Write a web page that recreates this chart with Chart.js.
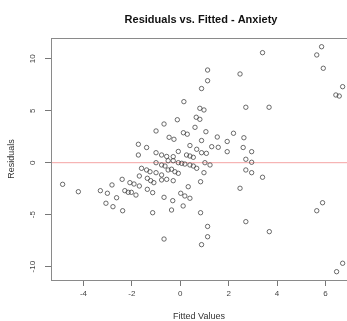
<!DOCTYPE html>
<html lang="en">
<head>
    <meta charset="UTF-8">
    <title>Residuals vs. Fitted - Anxiety</title>
    <script src="https://cdn.jsdelivr.net/npm/chart.js@4.4.1/dist/chart.umd.min.js"></script>
    <style>
        html, body { margin: 0; padding: 0; background: #fff; overflow: hidden; }
    </style>
</head>
<body>
    <div style="width: 347px; height: 321px;">
        <canvas id="residChart"></canvas>
    </div>

    <script>
        // Data
        const fittedValues = [
            -4.86, -4.21, -3.30, -3.01, -2.82, -2.63, -3.07, -2.78, -2.38, -2.40,
            -2.08, -1.91, -1.69, -1.69, -2.29, -2.15, -2.02, -1.83, -1.73, -1.73,
            -1.39, -1.36, -1.14, -1.14, -1.39, -1.60, -1.25, -1.00, -0.77, -1.36,
            -1.22, -1.09, -0.77, -0.56, -0.29, -0.36, -0.22, -0.08, -0.67, -0.31,
            0.02, 0.19, 0.40, 0.33, 0.12, -0.36, 0.84, 0.84, 0.98, -0.67,
            1.13, 1.13, 0.88,
            -1.00, -0.77, -0.63, -0.50, -0.29, -0.08, 0.06, 0.19, 0.40, 0.54,
            0.68, 1.02, 1.23,
            -1.00, -0.77, -0.56, -0.29, -0.08, 0.26, 0.40, 0.54, 0.68, 0.88,
            1.08, 1.30, 1.57, 1.94, 0.40, 0.88, 1.94, 1.53, -0.46, -0.26,
            -1.00, -0.67, -0.12, 0.15, 0.13, 0.29, 0.61, 1.06, 0.66, 0.81,
            0.81, 0.98, 0.88, 1.13, 1.13,
            2.20, 2.63, 2.60, 2.95, 2.71, 2.95, 2.71, 2.95, 3.40, 2.47,
            2.71, 3.68, 2.71, 3.67, 2.47, 3.40, 5.84, 5.64, 5.91, 6.71,
            6.43, 6.57, 5.88, 5.64, 6.71, 6.46,
            -0.50
        ];
        const residuals = [
            -2.08, -2.79, -2.69, -2.94, -2.14, -3.37, -3.90, -4.23, -4.62, -1.60,
            -1.92, -2.05, -2.24, -1.28, -2.69, -2.85, -2.85, -3.11, 0.74, 1.77,
            1.46, -2.56, -2.88, -4.81, -0.70, -0.54, -0.87, -0.96, -1.18, -1.50,
            -1.73, -1.92, -1.66, -1.60, -1.73, -0.63, -0.87, -1.02, -3.33, -3.65,
            -2.94, -3.20, -3.42, -2.31, -4.16, -4.55, -4.81, -1.83, -0.96, -7.34,
            -6.13, -7.12, -7.88,
            0.00, -0.22, -0.32, 0.19, 0.19, 0.00, -0.06, -0.13, -0.22, -0.32,
            -0.54, 0.00, -0.22,
            0.96, 0.74, 0.60, 0.58, 1.08, 0.74, 0.64, 0.52, 1.29, 0.96,
            0.90, 1.54, 1.48, 1.06, 1.65, 2.13, 2.04, 2.47, 2.44, 2.25,
            3.05, 3.72, 4.13, 5.87, 2.88, 2.74, 3.40, 2.98, 4.37, 4.17,
            5.23, 5.07, 7.13, 7.88, 8.91,
            2.83, 2.40, 1.46, 1.06, 0.33, 0.04, -0.70, -0.96, -1.40, -2.46,
            -5.67, -6.63, 5.33, 5.33, 8.53, 10.58, 11.15, 10.36, 9.08, 7.31,
            6.51, 6.41, -3.85, -4.62, -9.67, -10.48,
            -0.70
        ];
        const xTickValues = [-4, -2, 0, 2, 4, 6];
        const yTickValues = [-10, -5, 0, 5, 10];
        const xRange = [-5.34, 6.89];
        const yRange = [-11.28, 11.99];

        const points = fittedValues.map((x, i) => ({ x: x, y: residuals[i] }));
        const fontFamily = '"Liberation Sans", Arial, sans-serif';

        // Title, box and rotated y labels (R-style)
        const rStylePlugin = {
            id: 'rStyle',
            afterDraw(chart) {
                const c = chart.ctx;
                const a = chart.chartArea;
                c.save();
                c.strokeStyle = '#8a8a8a';
                c.lineWidth = 1;
                c.strokeRect(a.left + 0.5, a.top + 0.5, a.right - a.left + 5, a.bottom - a.top);

                c.fillStyle = '#111';
                c.font = 'bold 11px ' + fontFamily;
                c.textAlign = 'center';
                c.textBaseline = 'middle';
                c.fillText('Residuals vs. Fitted - Anxiety', 201, 20);

                const yScale = chart.scales.y;
                c.font = '8px ' + fontFamily;
                c.fillStyle = '#444';
                yTickValues.forEach(v => {
                    c.save();
                    c.translate(33, yScale.getPixelForValue(v));
                    c.rotate(-Math.PI / 2);
                    c.fillText(String(v), 0, 0);
                    c.restore();
                });
                c.restore();
            }
        };

        const ctx = document.getElementById('residChart').getContext('2d');
        const chart = new Chart(ctx, {
            type: 'scatter',
            data: {
                datasets: [{
                    label: 'Residuals',
                    data: points,
                    pointStyle: 'circle',
                    pointRadius: 2.2,
                    pointBorderWidth: 1,
                    borderColor: 'rgba(60, 60, 60, 0.75)',
                    backgroundColor: 'rgba(0, 0, 0, 0)',
                    order: 1
                }, {
                    type: 'line',
                    label: 'zero',
                    data: [{ x: xRange[0], y: 0 }, { x: xRange[1], y: 0 }],
                    borderColor: '#f4a3a3',
                    borderWidth: 1,
                    pointRadius: 0,
                    order: 2
                }]
            },
            options: {
                responsive: true,
                maintainAspectRatio: false,
                animation: false,
                layout: { autoPadding: false, padding: { top: 38, right: 0, left: 0, bottom: 0 } },
                plugins: {
                    legend: { display: false },
                    tooltip: { enabled: false }
                },
                scales: {
                    x: {
                        type: 'linear',
                        min: xRange[0],
                        max: xRange[1],
                        afterBuildTicks: s => { s.ticks = xTickValues.map(v => ({ value: v })); },
                        afterFit: s => { s.height = 41; s.paddingLeft = 0; s.paddingRight = 0; },
                        border: { display: false },
                        grid: { drawOnChartArea: false, drawTicks: true, tickLength: 6, color: '#777' },
                        ticks: {
                            padding: 3,
                            color: '#444',
                            font: { family: fontFamily, size: 8 },
                            maxRotation: 0
                        },
                        title: {
                            display: true,
                            text: 'Fitted Values',
                            color: '#333',
                            font: { family: fontFamily, size: 9, lineHeight: 1 },
                            padding: { top: 0, bottom: 0 }
                        }
                    },
                    y: {
                        type: 'linear',
                        min: yRange[0],
                        max: yRange[1],
                        afterBuildTicks: s => { s.ticks = yTickValues.map(v => ({ value: v })); },
                        afterFit: s => { s.width = 51; s.paddingTop = 0; s.paddingBottom = 0; },
                        border: { display: false },
                        grid: { drawOnChartArea: false, drawTicks: true, tickLength: 6, color: '#777' },
                        ticks: { display: false },
                        title: {
                            display: true,
                            text: 'Residuals',
                            color: '#333',
                            font: { family: fontFamily, size: 9, lineHeight: 1 },
                            padding: { top: 7.5, bottom: 0 }
                        }
                    }
                }
            },
            plugins: [rStylePlugin]
        });
    </script>
</body>
</html>
